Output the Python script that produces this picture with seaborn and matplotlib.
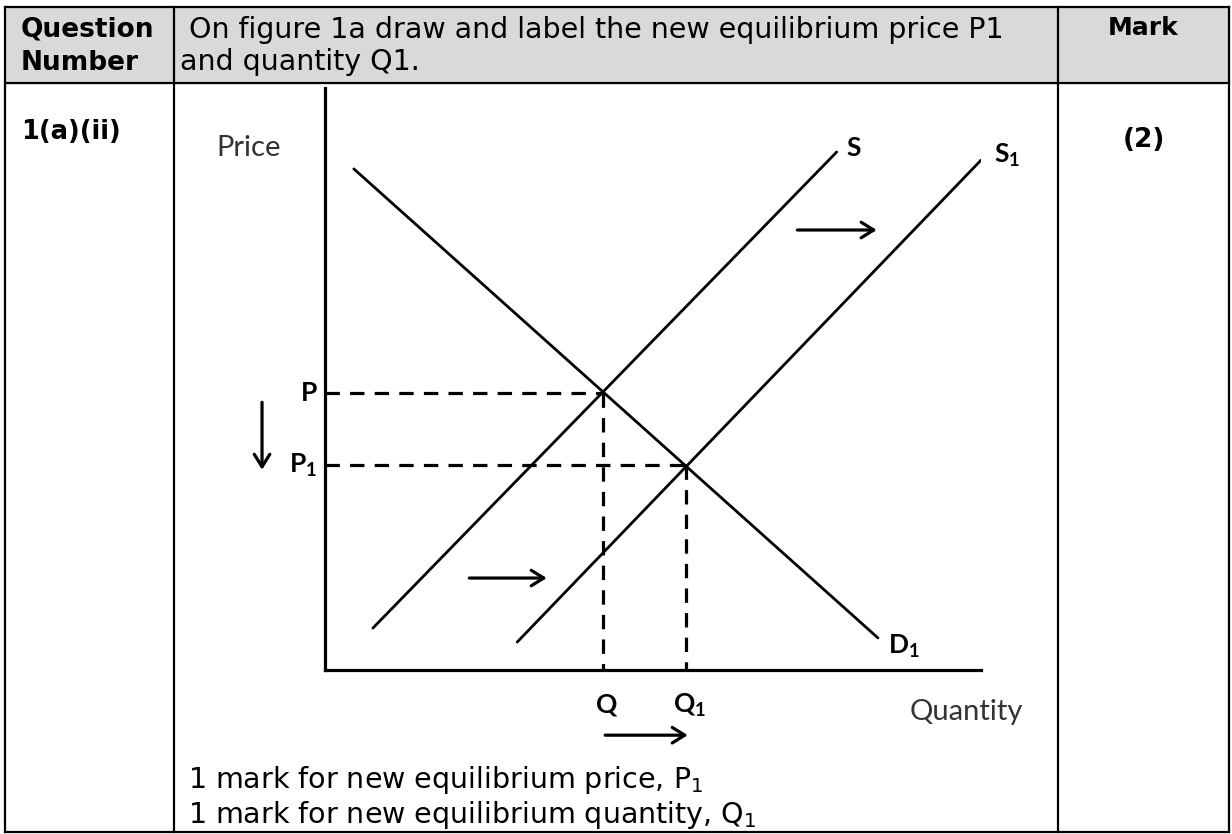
import matplotlib
matplotlib.use("Agg")
import matplotlib.pyplot as plt
import seaborn as sns
import pandas as pd

# ---------------- data ----------------
curve_names = ["D1", "S", "S1"]
curve_q = [[0.44, 8.43], [0.73, 7.80], [2.93, 10.0]]
curve_p = [[8.61, 0.55], [0.72, 8.90], [0.48, 8.76]]
curve_labels = ["D$_\\mathregular{1}$", "S", "S$_\\mathregular{1}$"]
curve_label_q = [8.58, 7.95, 10.2]
curve_label_p = [0.40, 8.97, 8.85]

eq_q = [4.24, 5.50]
eq_p = [4.76, 3.52]
price_labels = ["P", "P$_\\mathregular{1}$"]
qty_labels = ["Q", "Q$_\\mathregular{1}$"]

# shift arrows: (q0, p0) -> (q1, p1)
arrow_q0 = [7.20, 2.20, -0.96, 4.27]
arrow_p0 = [7.56, 1.58, 4.60, -1.12]
arrow_q1 = [8.41, 3.38, -0.96, 5.53]
arrow_p1 = [7.56, 1.58, 3.44, -1.12]

x_title = "Quantity"
y_title = "Price"

header_cells = ["Question\nNumber",
                " On figure 1a draw and label the new equilibrium price P1\nand quantity Q1.",
                "Mark"]
question_id = "1(a)(ii)"
mark_value = "(2)"
mark_notes = ["1 mark for new equilibrium price, P$_\\mathregular{1}$",
              "1 mark for new equilibrium quantity, Q$_\\mathregular{1}$"]

# ---------------- figure ----------------
sns.set_theme(style="white")
plt.rcParams["font.family"] = ["DejaVu Sans"]
plt.rcParams["mathtext.fontset"] = "dejavusans"
plt.rcParams["text.color"] = "black"

W, H = 1232, 834
fig = plt.figure(figsize=(W / 100, H / 100), dpi=100)
fig.patch.set_facecolor("white")

# table layer in pixel coordinates
bg = fig.add_axes([0, 0, 1, 1])
bg.set_xlim(0, W)
bg.set_ylim(H, 0)
bg.axis("off")

L, R, T, B = 5, 1229, 7, 832
HB = 83
C1, C2 = 174, 1058
bg.fill_between([L, R], T, HB, color="#d9d9d9", zorder=0)
lw_tab = 1.6
for y in (T, HB, B):
    bg.plot([L, R], [y, y], color="black", lw=lw_tab, solid_capstyle="projecting")
for x in (L, C1, C2, R):
    bg.plot([x, x], [T, B], color="black", lw=lw_tab, solid_capstyle="projecting")

bg.text(21, 46, header_cells[0], fontsize=19, fontweight="bold", va="center",
        ha="left", linespacing=1.35)
bg.text(180, 46, header_cells[1], fontsize=20.5, va="center", ha="left",
        linespacing=1.22)
bg.text((C2 + R) / 2, 28, header_cells[2], fontsize=18, fontweight="bold",
        va="center", ha="center")
bg.text(21, 132, question_id, fontsize=18.5, fontweight="bold", va="center", ha="left")
bg.text((C2 + R) / 2, 140, mark_value, fontsize=19, fontweight="bold",
        va="center", ha="center")
for i, note in enumerate(mark_notes):
    bg.text(188, 780 + 35 * i, note, fontsize=20.5, va="center", ha="left")

# diagram axes: origin at pixel (325, 670), top 88, right 981
x0, y0, x1, y1 = 325, 670, 981, 88
ax = fig.add_axes([x0 / W, (H - y0) / H, (x1 - x0) / W, (y0 - y1) / H])
ax.set_facecolor("none")
ax.set_xlim(0, 10)
ax.set_ylim(0, 10)
ax.set_xticks([])
ax.set_yticks([])
for side in ("top", "right"):
    ax.spines[side].set_visible(False)
for side in ("left", "bottom"):
    ax.spines[side].set_color("black")
    ax.spines[side].set_linewidth(2.3)

rows = []
for name, qs, ps in zip(curve_names, curve_q, curve_p):
    for q, p in zip(qs, ps):
        rows.append({"curve": name, "q": q, "p": p})
df = pd.DataFrame(rows)
sns.lineplot(data=df, x="q", y="p", units="curve", estimator=None, sort=False,
             color="black", lw=2.0, ax=ax, legend=False)
ax.set_xlabel("")
ax.set_ylabel("")

lab_font = "Lato"
for lab, q, p in zip(curve_labels, curve_label_q, curve_label_p):
    ax.text(q, p, lab, fontsize=19, fontweight="bold", family=lab_font,
            ha="left", va="center", clip_on=False)

# equilibrium dashed guides
for q, p, pl, ql in zip(eq_q, eq_p, price_labels, qty_labels):
    ax.plot([0, q], [p, p], color="black", lw=2.3, dashes=(4.5, 3.2), clip_on=False)
    ax.plot([q, q], [p, 0], color="black", lw=2.3, dashes=(4.5, 3.2), clip_on=False)
    ax.text(-0.12, p, pl, fontsize=19, fontweight="bold", family=lab_font,
            ha="right", va="center", clip_on=False)
    ax.text(q + 0.05, -0.60, ql, fontsize=19, fontweight="bold", family=lab_font,
            ha="center", va="center", clip_on=False)

ax.text(-1.16, 8.97, y_title, fontsize=21, family=lab_font, color="#333333",
        ha="center", va="center", clip_on=False)
ax.text(9.77, -0.72, x_title, fontsize=21, family=lab_font, color="#333333",
        ha="center", va="center", clip_on=False)

for qa, pa, qb, pb in zip(arrow_q0, arrow_p0, arrow_q1, arrow_p1):
    ax.annotate("", xy=(qb, pb), xytext=(qa, pa), xycoords="data",
                annotation_clip=False,
                arrowprops=dict(arrowstyle="->,head_length=0.45,head_width=0.28",
                                lw=2.3, color="black", shrinkA=0, shrinkB=0,
                                mutation_scale=20))

fig.savefig("out.png", dpi=100, facecolor="white")
